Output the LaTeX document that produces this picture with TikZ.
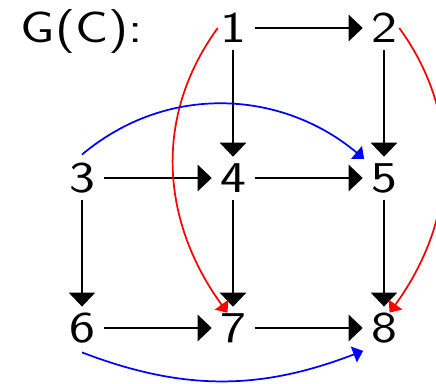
\documentclass[tikz,border=0pt]{standalone}
\usepackage{fontspec}
\usepackage{graphicx}
\usetikzlibrary{arrows.meta}
\newcommand\hsx[1]{\scalebox{1.25}[1]{#1}}
\tikzset{
  vtx/.style={rectangle, inner sep=0pt, minimum width=22.5pt, minimum height=22.5pt,
              font=\fontsize{33}{40}\selectfont\sffamily},
  blk/.style={line width=2pt, -{Triangle[length=10.5pt,width=19.5pt]},
              shorten <=4.8pt, shorten >=4.5pt},
  redarc/.style={red, line width=1.3pt, -{Triangle[length=7.5pt,width=12.5pt]}},
  bluearc/.style={blue, line width=1.3pt, -{Triangle[length=7.5pt,width=12.5pt]},
              shorten >=4.5pt}
}
\begin{document}
\begin{tikzpicture}[x=0.75pt,y=0.75pt]
\useasboundingbox (0,0) rectangle (436,-384);
\clip (0,0) rectangle (436,-384);
\node[font=\fontsize{33}{40}\selectfont\sffamily, anchor=base, inner sep=0pt] (gc) at (82,-42.4) {\hsx{G(C):}};
\node[vtx] (1) at (233,-28) {\hsx{1}};
\node[vtx] (2) at (384,-28) {\hsx{2}};
\node[vtx] (3) at (82,-178) {\hsx{3}};
\node[vtx] (4) at (233,-178) {\hsx{4}};
\node[vtx] (5) at (384,-178) {\hsx{5}};
\node[vtx] (6) at (82,-328) {\hsx{6}};
\node[vtx] (7) at (233,-328) {\hsx{7}};
\node[vtx] (8) at (384,-328) {\hsx{8}};
\draw[blk] (1) -- (2);
\draw[blk] (3) -- (4);
\draw[blk] (4) -- (5);
\draw[blk] (6) -- (7);
\draw[blk] (7) -- (8);
\draw[blk] (1) -- (4);
\draw[blk] (2) -- (5);
\draw[blk] (3) -- (6);
\draw[blk] (4) -- (7);
\draw[blk] (5) -- (8);
\draw[redarc] (1.west) to[out=234,in=126] (7.110);
\draw[redarc] (2.east) to[out=-54,in=54] (8.70);
\draw[bluearc] ([yshift=6pt]3.north) to[out=40,in=140] (5.north west);
\draw[bluearc] ([yshift=-6.75pt]6.south) to[out=-21,in=-159] ([yshift=-4pt]8.south west);
\end{tikzpicture}
\end{document}
